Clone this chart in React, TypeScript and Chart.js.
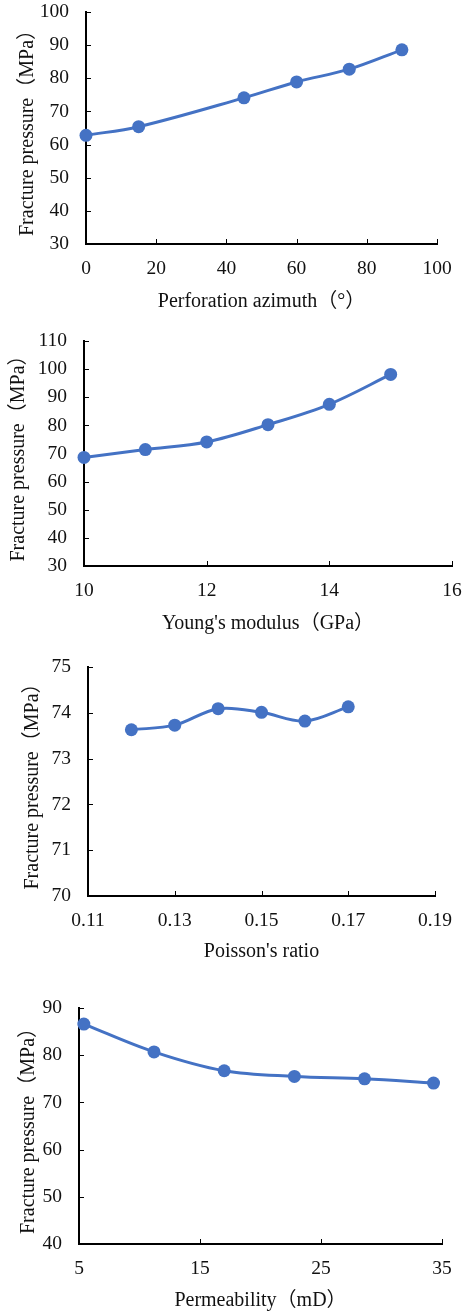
import React, { useEffect, useRef } from "react";
import { Chart, registerables } from "chart.js";

Chart.register(...registerables);

// ---- Data ----
const azimuth = [0, 15, 45, 60, 75, 90];
const pressureAzimuth = [62.8, 65.4, 74.1, 78.9, 82.75, 88.6];
const azimuthTicks = [0, 20, 40, 60, 80, 100];
const azimuthPressureTicks = [30, 40, 50, 60, 70, 80, 90, 100];

const youngs = [10, 11, 12, 13, 14, 15];
const pressureYoungs = [68.6, 71.4, 74.1, 80.25, 87.5, 98.1];
const youngsTicks = [10, 12, 14, 16];
const youngsPressureTicks = [30, 40, 50, 60, 70, 80, 90, 100, 110];

const poisson = [0.12, 0.13, 0.14, 0.15, 0.16, 0.17];
const pressurePoisson = [73.63, 73.73, 74.09, 74.01, 73.82, 74.13];
const poissonTicks = [0.11, 0.13, 0.15, 0.17, 0.19];
const poissonPressureTicks = [70, 71, 72, 73, 74, 75];

const permeability = [5.4, 11.2, 17.0, 22.8, 28.6, 34.3];
const pressurePermeability = [86.6, 80.7, 76.7, 75.5, 75.0, 74.1];
const permeabilityTicks = [5, 15, 25, 35];
const permeabilityPressureTicks = [40, 50, 60, 70, 80, 90];

const Y_TITLE = "Fracture pressure（MPa）";

const FONT_FAMILY = "'Liberation Serif', 'Times New Roman', 'Noto Sans CJK SC', serif";
const BLUE = "#4472C4";
const W = 464;

type Cfg = {
  xs: number[];
  ys: number[];
  xTicks: number[];
  yTicks: number[];
  xTitle: string;
  xDecimals: number;
  height: number;
  left: number;
  right: number;
  top: number;
  bottom: number;
  padLeft: number;
  padBottom: number;
};

const configs: Cfg[] = [
  {
    xs: azimuth, ys: pressureAzimuth, xTicks: azimuthTicks, yTicks: azimuthPressureTicks,
    xTitle: "Perforation azimuth（°）", xDecimals: 0,
    height: 320, left: 86, right: 437, top: 12, bottom: 244, padLeft: 15.5, padBottom: 6.5,
  },
  {
    xs: youngs, ys: pressureYoungs, xTicks: youngsTicks, yTicks: youngsPressureTicks,
    xTitle: "Young's modulus（GPa）", xDecimals: 0,
    height: 320, left: 84, right: 452, top: 21, bottom: 246, padLeft: 6.5, padBottom: 4.5,
  },
  {
    xs: poisson, ys: pressurePoisson, xTicks: poissonTicks, yTicks: poissonPressureTicks,
    xTitle: "Poisson's ratio", xDecimals: 2,
    height: 330, left: 88, right: 435, top: 27, bottom: 256, padLeft: 20.5, padBottom: 6.5,
  },
  {
    xs: permeability, ys: pressurePermeability, xTicks: permeabilityTicks, yTicks: permeabilityPressureTicks,
    xTitle: "Permeability（mD）", xDecimals: 0,
    height: 344, left: 79, right: 442, top: 38, bottom: 274, padLeft: 17, padBottom: 1.5,
  },
];

const inwardTicks = {
  id: "inwardTicks",
  beforeDatasetsDraw(chart: any) {
    const { ctx, chartArea, scales } = chart;
    const xs = scales.x;
    const ys = scales.y;
    ctx.save();
    ctx.strokeStyle = "#000";
    ctx.lineWidth = 1;
    ctx.beginPath();
    xs.ticks.forEach((t: any) => {
      const px = Math.round(xs.getPixelForValue(t.value)) + 0.5;
      ctx.moveTo(px, chartArea.bottom);
      ctx.lineTo(px, chartArea.bottom - 5);
    });
    ys.ticks.forEach((t: any) => {
      const py = Math.round(ys.getPixelForValue(t.value)) + 0.5;
      ctx.moveTo(chartArea.left, py);
      ctx.lineTo(chartArea.left + 5, py);
    });
    ctx.stroke();
    ctx.restore();
  },
};

function LineChart({ cfg }: { cfg: Cfg }) {
  const ref = useRef<HTMLCanvasElement>(null);
  useEffect(() => {
    if (!ref.current) return;
    const tickFont = { family: FONT_FAMILY, size: 19.5 };
    const titleFont = { family: FONT_FAMILY, size: 20 };
    const chart = new Chart(ref.current, {
      type: "line",
      data: {
        datasets: [
          {
            data: cfg.xs.map((x, i) => ({ x, y: cfg.ys[i] })),
            borderColor: BLUE,
            backgroundColor: BLUE,
            borderWidth: 3,
            pointRadius: 6.5,
            pointBorderWidth: 0,
            pointBackgroundColor: BLUE,
            tension: 0.35,
            clip: false as any,
          },
        ],
      },
      options: {
        animation: false,
        responsive: false,
        maintainAspectRatio: false,
        layout: {
          padding: {
            left: cfg.padLeft,
            right: W - cfg.right,
            top: cfg.top,
            bottom: cfg.padBottom,
          },
        },
        plugins: { legend: { display: false }, tooltip: { enabled: false } },
        scales: {
          x: {
            type: "linear",
            min: cfg.xTicks[0],
            max: cfg.xTicks[cfg.xTicks.length - 1],
            afterBuildTicks: (s: any) => {
              s.ticks = cfg.xTicks.map((v) => ({ value: v }));
            },
            afterFit: (s: any) => {
              s.height = cfg.height - cfg.bottom - cfg.padBottom;
              s.paddingLeft = 0;
              s.paddingRight = 0;
            },
            grid: { display: true, drawOnChartArea: false, drawTicks: false },
            border: { display: true, color: "#000", width: 2 },
            ticks: {
              color: "#111",
              font: tickFont,
              padding: 13,
              maxRotation: 0,
              autoSkip: false,
              callback: (v: any) => Number(v).toFixed(cfg.xDecimals),
            },
            title: { display: true, text: cfg.xTitle, color: "#111", font: titleFont, padding: 0 },
          },
          y: {
            type: "linear",
            min: cfg.yTicks[0],
            max: cfg.yTicks[cfg.yTicks.length - 1],
            afterBuildTicks: (s: any) => {
              s.ticks = cfg.yTicks.map((v) => ({ value: v }));
            },
            afterFit: (s: any) => {
              s.width = cfg.left - cfg.padLeft;
              s.paddingTop = 0;
              s.paddingBottom = 0;
            },
            grid: { display: true, drawOnChartArea: false, drawTicks: false },
            border: { display: true, color: "#000", width: 2 },
            ticks: { color: "#111", font: tickFont, padding: 17, autoSkip: false },
            title: { display: true, text: Y_TITLE, color: "#111", font: titleFont, padding: 0 },
          },
        },
      },
      plugins: [inwardTicks],
    } as any);
    return () => chart.destroy();
  }, [cfg]);
  return (
    <div style={{ width: W, height: cfg.height, position: "relative" }}>
      <canvas ref={ref} width={W} height={cfg.height} style={{ display: "block", width: W, height: cfg.height }} />
    </div>
  );
}

export default function App() {
  useEffect(() => {
    document.body.style.margin = "0";
    document.body.style.background = "#fff";
  }, []);
  return (
    <div style={{ width: W, background: "#fff" }}>
      {configs.map((c, i) => (
        <LineChart key={i} cfg={c} />
      ))}
    </div>
  );
}
